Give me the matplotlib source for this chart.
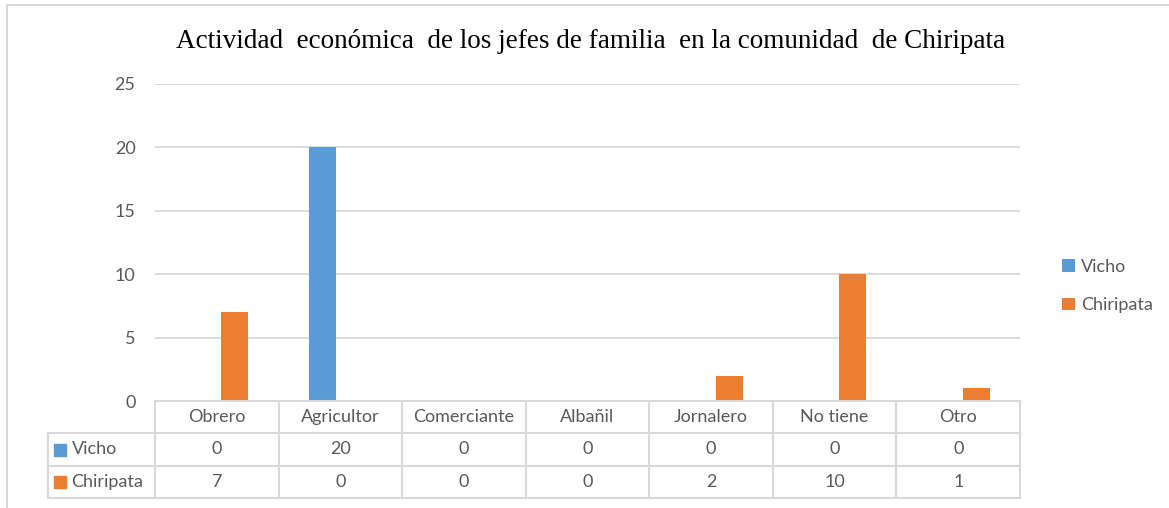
import numpy as np
import matplotlib.pyplot as plt
from matplotlib.patches import Rectangle

categorias = ["Obrero", "Agricultor", "Comerciante", "Albañil", "Jornalero", "No tiene", "Otro"]
vicho = [0, 20, 0, 0, 0, 0, 0]
chiripata = [7, 0, 0, 0, 2, 10, 1]
series = ["Vicho", "Chiripata"]
colores = ["#5B9BD5", "#ED7D31"]
titulo = "Actividad  económica  de los jefes de familia  en la comunidad  de Chiripata"

W, H = 1169, 508
GRID = "#d9d9d9"
TXT = "#595959"
FONT = "Lato"
FS = 13

fig = plt.figure(figsize=(W / 100, H / 100), dpi=100)

# marco exterior
fig.patches.append(Rectangle((7 / W, -0.01), 1.0, 1 - 5 / H + 0.01,
                             transform=fig.transFigure, fill=False,
                             edgecolor=GRID, linewidth=1.5))

x0, x1 = 155, 1020
ytop, ybot = 84, 401
ax = fig.add_axes([x0 / W, 1 - ybot / H, (x1 - x0) / W, (ybot - ytop) / H])

x = np.arange(len(categorias)) + 0.5
ancho = 0.22
desp = 0.146
ax.bar(x - desp, vicho, ancho, color=colores[0], label=series[0])
ax.bar(x + desp, chiripata, ancho, color=colores[1], label=series[1])

ax.set_xlim(0, len(categorias))
ax.set_ylim(0, 25)
ax.set_yticks(range(0, 26, 5))
ax.yaxis.grid(True, color=GRID, linewidth=1.3)
ax.set_axisbelow(True)
for s in ax.spines.values():
    s.set_visible(False)
ax.tick_params(axis="y", length=0, pad=14, labelsize=FS, labelcolor=TXT)
for lbl in ax.get_yticklabels():
    lbl.set_fontfamily(FONT)
ax.set_xticks([])

# tabla de datos
tx0 = 48
tbot = 498
tax = fig.add_axes([tx0 / W, 1 - tbot / H, (x1 - tx0) / W, (tbot - ybot) / H])
izq = -(x0 - tx0) / ((x1 - x0) / len(categorias))
tax.set_xlim(izq, len(categorias))
tax.set_ylim(3, 0)
tax.axis("off")

n = len(categorias)
tax.plot([0, n], [0, 0], color=GRID, lw=1.5, clip_on=False)
for yy in [1, 2, 3]:
    tax.plot([izq, n], [yy, yy], color=GRID, lw=1.5, clip_on=False)
tax.plot([izq, izq], [1, 3], color=GRID, lw=1.5, clip_on=False)
for xx in range(n + 1):
    tax.plot([xx, xx], [0, 3], color=GRID, lw=1.5, clip_on=False)

for i, c in enumerate(categorias):
    tax.text(i + 0.5, 0.5, c, ha="center", va="center", fontsize=FS,
             color=TXT, family=FONT)
for r, (nombre, vals, col) in enumerate(zip(series, [vicho, chiripata], colores)):
    yy = r + 1.5
    tax.scatter([izq + 0.1], [yy], marker="s", s=75, color=col, clip_on=False)
    tax.text(izq + 0.19, yy, nombre, ha="left", va="center", fontsize=FS,
             color=TXT, family=FONT)
    for i, v in enumerate(vals):
        tax.text(i + 0.5, yy, str(v), ha="center", va="center", fontsize=FS,
                 color=TXT, family=FONT)

# leyenda
fig.legend(loc="center left", bbox_to_anchor=(1046 / W, 1 - 286 / H),
           frameon=False, handlelength=0.7, handleheight=0.7,
           handletextpad=0.35, labelspacing=1.25,
           prop={"family": FONT, "size": FS}, labelcolor=TXT)

fig.text(591 / W, 1 - 42 / H, titulo, ha="center", va="center",
         fontsize=19.5, family="Liberation Serif", color="black")

fig.savefig("out.png", dpi=100)
